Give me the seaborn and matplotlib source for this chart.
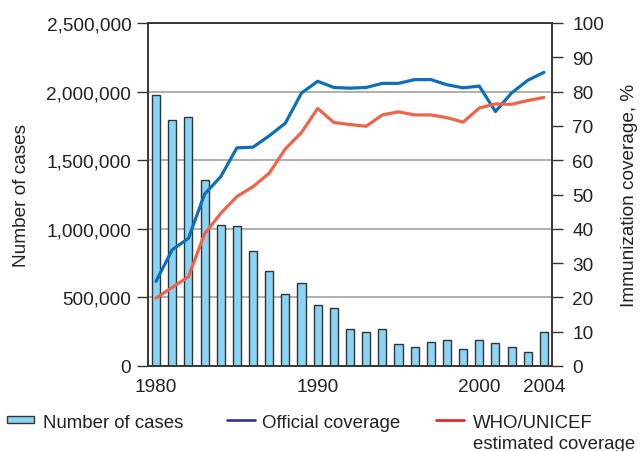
import numpy as np
import pandas as pd
import matplotlib
matplotlib.use("Agg")
import matplotlib.pyplot as plt
import seaborn as sns
from matplotlib.patches import Rectangle
from matplotlib.lines import Line2D
from matplotlib.ticker import FuncFormatter

# Reported cases and immunization coverage, 1980-2004
years = list(range(1980, 2005))
cases = [1975000, 1795000, 1815000, 1355000, 1025000, 1018000, 836000, 695000,
         522000, 605000, 445000, 425000, 268000, 248000, 267000, 163000,
         141000, 177000, 187000, 122000, 187000, 170000, 141000, 105000, 248000]
official_coverage = [24.7, 33.9, 37.2, 50.1, 55.2, 63.6, 63.8, 67.1, 70.8, 79.6,
                     83.0, 81.2, 81.0, 81.2, 82.4, 82.4, 83.5, 83.5, 82.0, 81.1,
                     81.6, 74.2, 79.6, 83.3, 85.6]
who_unicef_coverage = [19.8, 22.9, 26.0, 38.5, 44.5, 49.4, 52.3, 56.2, 63.3, 68.1,
                       75.1, 71.0, 70.4, 69.9, 73.2, 74.1, 73.2, 73.2, 72.4, 71.1,
                       75.2, 76.4, 76.3, 77.4, 78.3]
year_labels = [1980, 1990, 2000, 2004]

df = pd.DataFrame({"year": years, "cases": cases,
                   "official": official_coverage, "who": who_unicef_coverage})

sns.set_theme(style="white")
plt.rcParams["font.family"] = ["Liberation Sans", "DejaVu Sans"]

FS = 13.7
LEG_FS = 13.4
TXT = "#222222"
SPINE = "#333333"
BAR = "#8AD4F5"
BLUE = "#0B6FBA"
RED = "#F0634A"

W, H = 641, 452
fig = plt.figure(figsize=(W / 100, H / 100), dpi=100)
ax = fig.add_axes([148 / W, 1 - 367 / H, (552 - 148) / W, (367 - 24) / H])

sns.barplot(data=df, x="year", y="cases", native_scale=True, width=0.5,
            color=BAR, saturation=1, edgecolor=SPINE, linewidth=1.0, ax=ax)

ax.set_xlim(1979.5, 2004.5)
ax.set_ylim(0, 2_500_000)
ax.set_yticks(np.arange(0, 2_500_001, 500_000))
ax.yaxis.set_major_formatter(FuncFormatter(lambda v, p: f"{int(v):,}"))
ax.yaxis.grid(True, color="#9a9a9a", lw=1.1)
ax.set_axisbelow(True)

ax.set_xticks(year_labels)
ax.set_xticklabels([str(y) for y in year_labels])
ax.set_xticks(np.arange(1979.5, 2005, 1), minor=True)
ax.tick_params(axis="x", which="major", length=0, pad=9, labelsize=FS, labelcolor=TXT)
ax.tick_params(axis="x", which="minor", length=7, width=1.0, color=SPINE, direction="out")
ax.tick_params(axis="y", length=8, width=1.0, color=SPINE, direction="out",
               pad=4, labelsize=FS, labelcolor=TXT, left=True)
ax.set_xlabel("")
ax.set_ylabel("Number of cases", fontsize=FS, color=TXT, labelpad=12)

ax2 = ax.twinx()
sns.lineplot(data=df, x="year", y="official", color=BLUE, lw=2.3, ax=ax2)
sns.lineplot(data=df, x="year", y="who", color=RED, lw=2.3, ax=ax2)
ax2.set_ylim(0, 100)
ax2.set_yticks(np.arange(0, 101, 10))
ax2.tick_params(axis="y", length=8, width=1.0, color=SPINE, direction="out",
                pad=6.5, labelsize=FS, labelcolor=TXT, right=True)
ax2.set_xlabel("")
ax2.set_ylabel("Immunization coverage, %", fontsize=FS, color=TXT, labelpad=12)

for a in (ax, ax2):
    for s in a.spines.values():
        s.set_visible(True)
        s.set_color(SPINE)
        s.set_linewidth(1.1)

# Legend row below the chart
def fx(x):
    return x / W

def fy(y):
    return 1 - y / H

fig.add_artist(Rectangle((fx(7), fy(424)), fx(34) - fx(7), fy(417) - fy(424),
                         transform=fig.transFigure, facecolor=BAR,
                         edgecolor=SPINE, lw=1.0))
fig.text(fx(43), fy(428), "Number of cases", fontsize=LEG_FS, color=TXT, va="baseline")
fig.add_artist(Line2D([fx(227), fx(255)], [fy(421), fy(421)],
                      transform=fig.transFigure, color="#2E3192", lw=1.9))
fig.text(fx(262), fy(428), "Official coverage", fontsize=LEG_FS, color=TXT, va="baseline")
fig.add_artist(Line2D([fx(436), fx(464)], [fy(421), fy(421)],
                      transform=fig.transFigure, color="#ED1C24", lw=1.9))
fig.text(fx(473), fy(428), "WHO/UNICEF", fontsize=LEG_FS, color=TXT, va="baseline")
fig.text(fx(473), fy(449), "estimated coverage", fontsize=LEG_FS, color=TXT, va="baseline")

fig.savefig("out.png", dpi=100)
